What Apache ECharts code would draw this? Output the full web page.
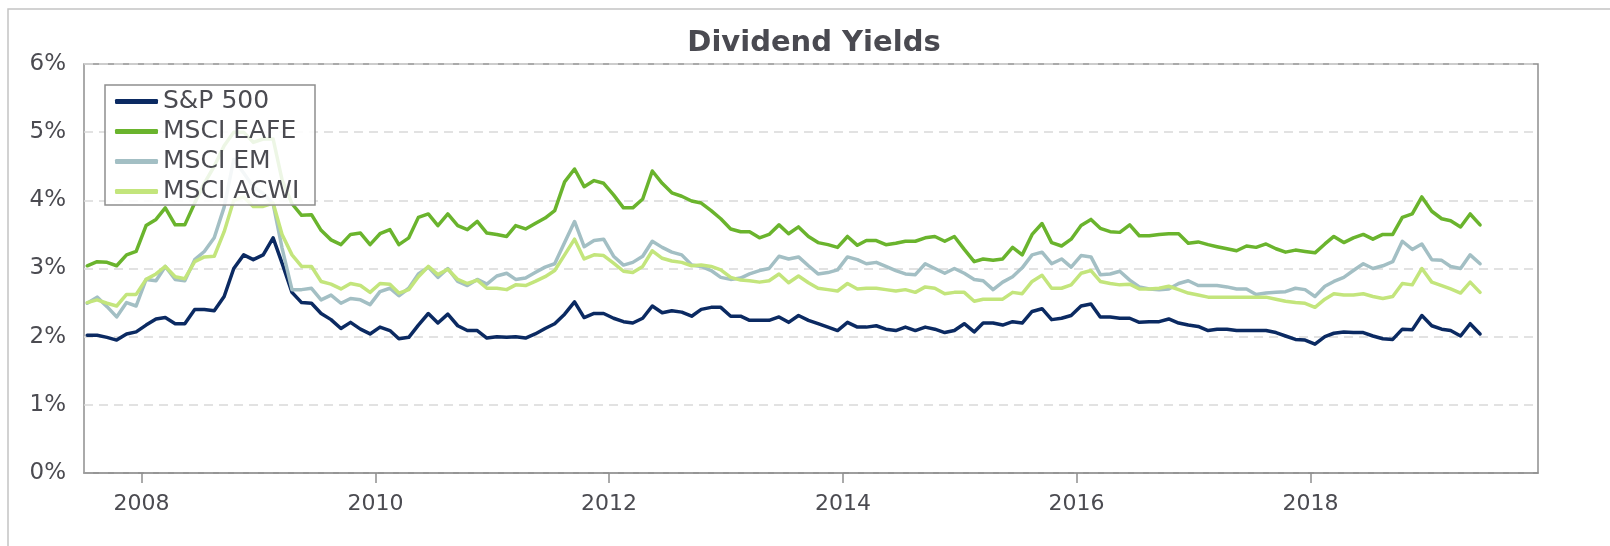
<!DOCTYPE html>
<html>
<head>
<meta charset="utf-8">
<title>Dividend Yields</title>
<script src="https://cdn.jsdelivr.net/npm/echarts@6/dist/echarts.min.js"></script>
<style>
  html, body { margin: 0; padding: 0; background: #ffffff; }
  #chart { width: 1610px; height: 546px; }
</style>
</head>
<body>
<div id="chart"></div>
<script>
// Monthly observations, July 2007 through June 2019 (144 months), plotted mid-month.
const firstYear = 2007, firstMonth = 6, monthCount = 144;
const months = [];
for (let k = 0; k < monthCount; k++) {
  const y = firstYear + Math.floor((firstMonth + k) / 12);
  const m = (firstMonth + k) % 12;
  months.push(Date.UTC(y, m, 15));
}

// Years carrying a tick and a label on the horizontal axis
const tickYears = [2008, 2010, 2012, 2014, 2016, 2018];

const seriesNames = ['S&P 500', 'MSCI EAFE', 'MSCI EM', 'MSCI ACWI'];

// Dividend yields, percent
const sp500 = [
  2.02, 2.02, 1.99, 1.95, 2.04, 2.07, 2.17, 2.26, 2.28, 2.19, 2.19, 2.40,
  2.40, 2.38, 2.59, 3.00, 3.20, 3.13, 3.20, 3.45, 3.08, 2.65, 2.50, 2.49,
  2.34, 2.25, 2.12, 2.21, 2.11, 2.04, 2.14, 2.09, 1.97, 1.99, 2.17, 2.34,
  2.20, 2.33, 2.16, 2.09, 2.09, 1.98, 2.00, 1.99, 2.00, 1.98, 2.04, 2.12,
  2.19, 2.33, 2.51, 2.28, 2.34, 2.34, 2.27, 2.22, 2.20, 2.27, 2.45, 2.35,
  2.38, 2.36, 2.30, 2.40, 2.43, 2.43, 2.30, 2.30, 2.24, 2.24, 2.24, 2.29,
  2.21, 2.31, 2.24, 2.19, 2.14, 2.09, 2.21, 2.14, 2.14, 2.16, 2.11, 2.09,
  2.14, 2.09, 2.14, 2.11, 2.06, 2.09, 2.19, 2.07, 2.20, 2.20, 2.17, 2.22,
  2.20, 2.37, 2.41, 2.25, 2.27, 2.31, 2.45, 2.48, 2.29, 2.29, 2.27, 2.27,
  2.21, 2.22, 2.22, 2.26, 2.20, 2.17, 2.15, 2.09, 2.11, 2.11, 2.09, 2.09,
  2.09, 2.09, 2.06, 2.01, 1.96, 1.95, 1.89, 2.00, 2.05, 2.07, 2.06, 2.06,
  2.01, 1.97, 1.96, 2.11, 2.10, 2.31, 2.16, 2.11, 2.09, 2.01, 2.19, 2.04
];

const msciEafe = [
  3.04, 3.10, 3.09, 3.04, 3.20, 3.25, 3.63, 3.72, 3.89, 3.64, 3.64, 3.96,
  4.25, 4.50, 4.80, 5.00, 5.00, 4.85, 4.90, 4.90, 4.30, 3.95, 3.78, 3.79,
  3.56, 3.42, 3.35, 3.50, 3.52, 3.35, 3.51, 3.57, 3.35, 3.45, 3.75, 3.80,
  3.63, 3.80, 3.63, 3.57, 3.69, 3.52, 3.50, 3.47, 3.63, 3.58, 3.66, 3.74,
  3.85, 4.27, 4.46, 4.20, 4.29, 4.25, 4.08, 3.89, 3.89, 4.02, 4.43, 4.25,
  4.11, 4.06, 3.99, 3.96, 3.85, 3.73, 3.58, 3.54, 3.54, 3.45, 3.50, 3.64,
  3.51, 3.61, 3.47, 3.38, 3.35, 3.31, 3.47, 3.34, 3.41, 3.41, 3.35, 3.37,
  3.40, 3.40, 3.45, 3.47, 3.40, 3.47, 3.28, 3.10, 3.14, 3.12, 3.14, 3.31,
  3.20, 3.50, 3.66, 3.38, 3.33, 3.43, 3.63, 3.72, 3.59, 3.54, 3.53, 3.64,
  3.48, 3.48, 3.50, 3.51, 3.51, 3.37, 3.39, 3.35, 3.32, 3.29, 3.26, 3.33,
  3.31, 3.36, 3.29, 3.24, 3.27, 3.25, 3.23, 3.36, 3.47, 3.38, 3.45, 3.50,
  3.43, 3.50, 3.50, 3.75, 3.80, 4.05, 3.84, 3.73, 3.70, 3.61, 3.80, 3.64
];

const msciEm = [
  2.49, 2.58, 2.44, 2.29, 2.50, 2.45, 2.84, 2.82, 3.03, 2.84, 2.82, 3.13,
  3.25, 3.45, 3.90, 4.60, 4.40, 4.20, 4.10, 3.95, 3.30, 2.69, 2.69, 2.71,
  2.54, 2.61, 2.49, 2.56, 2.54, 2.47, 2.66, 2.71, 2.60, 2.71, 2.92, 3.02,
  2.87, 3.00, 2.81, 2.75, 2.84, 2.77, 2.89, 2.93, 2.84, 2.86, 2.94, 3.02,
  3.07, 3.38, 3.69, 3.32, 3.41, 3.43, 3.18, 3.05, 3.09, 3.18, 3.40, 3.31,
  3.24, 3.20, 3.05, 3.03, 2.97, 2.87, 2.84, 2.86, 2.92, 2.97, 3.00, 3.18,
  3.14, 3.17, 3.04, 2.92, 2.94, 2.98, 3.17, 3.13, 3.07, 3.09, 3.03, 2.97,
  2.92, 2.91, 3.07, 3.00, 2.93, 3.00, 2.93, 2.84, 2.82, 2.69, 2.80, 2.88,
  3.01, 3.20, 3.24, 3.07, 3.14, 3.02, 3.19, 3.17, 2.91, 2.92, 2.96, 2.83,
  2.73, 2.70, 2.69, 2.70, 2.78, 2.82, 2.75, 2.75, 2.75, 2.73, 2.70, 2.70,
  2.62, 2.64, 2.65, 2.66, 2.71, 2.69, 2.59, 2.74, 2.81, 2.87, 2.97, 3.07,
  3.00, 3.04, 3.10, 3.40, 3.28, 3.36, 3.13, 3.12, 3.03, 3.00, 3.20, 3.07
];

const msciAcwi = [
  2.50, 2.54, 2.49, 2.45, 2.62, 2.62, 2.84, 2.92, 3.03, 2.88, 2.85, 3.10,
  3.17, 3.18, 3.54, 4.00, 4.05, 3.91, 3.91, 3.96, 3.50, 3.20, 3.03, 3.03,
  2.81, 2.77, 2.70, 2.78, 2.75, 2.65, 2.78, 2.77, 2.64, 2.69, 2.88, 3.03,
  2.91, 2.99, 2.84, 2.78, 2.83, 2.71, 2.71, 2.69, 2.76, 2.75, 2.81, 2.88,
  2.97, 3.20, 3.43, 3.14, 3.20, 3.19, 3.08, 2.96, 2.94, 3.03, 3.26, 3.15,
  3.11, 3.09, 3.04, 3.05, 3.03, 2.98, 2.87, 2.83, 2.82, 2.80, 2.82, 2.92,
  2.79, 2.89, 2.79, 2.71, 2.69, 2.67, 2.78, 2.70, 2.71, 2.71, 2.69, 2.67,
  2.69, 2.65, 2.73, 2.71, 2.63, 2.65, 2.65, 2.52, 2.55, 2.55, 2.55, 2.65,
  2.63, 2.81, 2.90, 2.71, 2.71, 2.76, 2.93, 2.97, 2.81, 2.78, 2.76, 2.77,
  2.70, 2.70, 2.71, 2.74, 2.69, 2.64, 2.61, 2.58, 2.58, 2.58, 2.58, 2.58,
  2.58, 2.58, 2.55, 2.52, 2.50, 2.49, 2.43, 2.55, 2.63, 2.61, 2.61, 2.63,
  2.59, 2.56, 2.59, 2.78, 2.76, 3.00, 2.80, 2.75, 2.70, 2.64, 2.80, 2.65
];

const seriesValues = [sp500, msciEafe, msciEm, msciAcwi];
const seriesColors = ['#0b2a62', '#6ab42d', '#a3bfc4', '#c3e57c'];

const FONT = '"DejaVu Sans", Verdana, sans-serif';
const TEXT = '#4b4b51';
const FRAME = '#8e8e8e';

// Jan 1 of each labelled year, as timestamps on a linear axis
const tickTimes = tickYears.map(y => Date.UTC(y, 0, 1));

const chart = echarts.init(document.getElementById('chart'), null, { renderer: 'canvas' });

chart.setOption({
  animation: false,
  backgroundColor: '#ffffff',
  textStyle: { fontFamily: FONT },
  graphic: {
    elements: [
      {
        // outer frame of the exhibit
        type: 'rect',
        silent: true,
        z: -10,
        shape: { x: 8, y: 9, width: 1700, height: 700 },
        style: { fill: 'none', stroke: '#c4c4c4', lineWidth: 1.5 }
      },
      {
        type: 'text',
        silent: true,
        x: 814,
        y: 43,
        style: {
          text: 'Dividend Yields',
          font: 'bold 29px ' + FONT,
          fill: '#4a4a51',
          textAlign: 'center',
          textVerticalAlign: 'middle'
        }
      },
      {
        // legend panel: translucent white over the lines, thin grey border
        type: 'rect',
        silent: true,
        z: 100,
        zlevel: 0,
        shape: { x: 105, y: 85, width: 210, height: 120 },
        style: { fill: 'rgba(255,255,255,0.88)', stroke: FRAME, lineWidth: 1.5 }
      }
    ]
  },
  grid: {
    left: 84,
    right: 72,
    top: 64,
    bottom: 73,
    show: true,
    borderColor: FRAME,
    borderWidth: 1.5,
    backgroundColor: 'transparent'
  },
  legend: {
    data: seriesNames,
    orient: 'vertical',
    left: 115,
    top: 89,
    z: 110,
    icon: 'roundRect',
    itemWidth: 43,
    itemHeight: 5,
    itemGap: 5,
    itemTextGap: 16,
    selectedMode: false,
    padding: 0,
    backgroundColor: 'transparent',
    borderWidth: 0,
    textStyle: { fontSize: 25, color: TEXT, fontFamily: FONT, lineHeight: 25 }
  },
  xAxis: {
    type: 'value',
    min: Date.UTC(2007, 6, 5),
    max: Date.UTC(2019, 11, 13),
    axisLine: { show: true, lineStyle: { color: FRAME, width: 1.5 } },
    axisTick: {
      show: true,
      customValues: tickTimes,
      length: 10,
      inside: false,
      lineStyle: { color: FRAME, width: 1.5 }
    },
    axisLabel: {
      customValues: tickTimes,
      formatter: v => String(new Date(v).getUTCFullYear()),
      fontSize: 22,
      color: TEXT,
      fontFamily: FONT,
      margin: 20
    },
    splitLine: { show: false }
  },
  yAxis: {
    type: 'value',
    min: 0,
    max: 6,
    interval: 1,
    axisLine: { show: false },
    axisTick: { show: false },
    axisLabel: {
      formatter: '{value}%',
      fontSize: 23,
      color: TEXT,
      fontFamily: FONT,
      margin: 18
    },
    splitLine: {
      show: true,
      lineStyle: { color: '#d9d9d9', width: 1.5, type: [9, 6] }
    }
  },
  series: seriesNames.map((name, s) => ({
    name: name,
    type: 'line',
    data: months.map((t, k) => [t, seriesValues[s][k]]),
    showSymbol: false,
    symbol: 'none',
    color: seriesColors[s],
    lineStyle: { width: 3.5, color: seriesColors[s], cap: 'round', join: 'round' },
    emphasis: { disabled: true },
    z: 2 + s
  }))
});
</script>
</body>
</html>
